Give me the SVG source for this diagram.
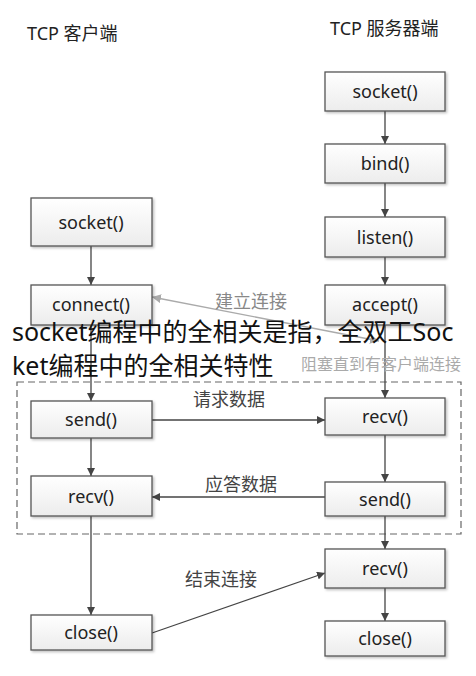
<svg xmlns="http://www.w3.org/2000/svg" width="476" height="676" viewBox="0 0 476 676">
<defs>
<linearGradient id="bg" x1="0" y1="0" x2="0" y2="1">
<stop offset="0" stop-color="#ffffff"/>
<stop offset="1" stop-color="#ececec"/>
</linearGradient>
<filter id="sh" x="-10%" y="-10%" width="130%" height="140%">
<feDropShadow dx="1.5" dy="1.5" stdDeviation="1" flood-color="#000" flood-opacity="0.25"/>
</filter>
<marker id="ah" viewBox="0 0 10 10" refX="10" refY="5" markerWidth="8" markerHeight="8" orient="auto-start-reverse" markerUnits="userSpaceOnUse">
<path d="M0,0 L10,5 L0,10 z" fill="#444"/>
</marker>
<marker id="ahl" viewBox="0 0 10 10" refX="10" refY="5" markerWidth="9" markerHeight="9" orient="auto-start-reverse" markerUnits="userSpaceOnUse">
<path d="M0,0 L10,5 L0,10 z" fill="#aaa"/>
</marker>
</defs>
<style>
.box{fill:url(#bg);stroke:#555;stroke-width:1.3;filter:url(#sh)}
.bt{font-family:"Noto Sans","Open Sans",sans-serif;font-size:18px;fill:#222;text-anchor:middle}
.ttl{font-family:"Noto Sans","Noto Sans CJK SC",sans-serif;font-size:18px;fill:#222}
.lbl{font-family:"Noto Sans CJK SC",sans-serif;font-size:18px;fill:#444}
.ln{stroke:#444;stroke-width:1.3;fill:none}
.big{font-family:"Noto Sans","Noto Sans CJK SC",sans-serif;font-size:25px;fill:#111}
</style>
<rect width="476" height="676" fill="#fff"/>

<text class="ttl" x="27" y="40">TCP 客户端</text>
<text class="ttl" x="330" y="35">TCP 服务器端</text>

<rect x="17" y="382" width="444" height="152" fill="none" stroke="#666" stroke-width="1.2" stroke-dasharray="7,4"/>

<g id="connectors">
<line class="ln" x1="91" y1="246" x2="91" y2="285" marker-end="url(#ah)"/>
<line class="ln" x1="91" y1="325" x2="91" y2="401" marker-end="url(#ah)"/>
<line class="ln" x1="91" y1="438" x2="91" y2="476" marker-end="url(#ah)"/>
<line class="ln" x1="91" y1="516" x2="91" y2="615" marker-end="url(#ah)"/>
<line class="ln" x1="385" y1="111" x2="385" y2="144" marker-end="url(#ah)"/>
<line class="ln" x1="385" y1="183" x2="385" y2="217" marker-end="url(#ah)"/>
<line class="ln" x1="385" y1="257" x2="385" y2="285" marker-end="url(#ah)"/>
<line class="ln" x1="385" y1="325" x2="385" y2="398" marker-end="url(#ah)"/>
<line class="ln" x1="385" y1="435" x2="385" y2="482" marker-end="url(#ah)"/>
<line class="ln" x1="385" y1="516" x2="385" y2="549" marker-end="url(#ah)"/>
<line class="ln" x1="385" y1="588" x2="385" y2="621" marker-end="url(#ah)"/>
<line class="ln" x1="152" y1="420" x2="325" y2="420" marker-end="url(#ah)"/>
<line class="ln" x1="325" y1="497" x2="152" y2="497" marker-end="url(#ah)"/>
<line class="ln" x1="152" y1="633" x2="325" y2="573" marker-end="url(#ah)"/>
<line x1="152" y1="297" x2="379" y2="341" stroke="#aaa" stroke-width="1.3" marker-start="url(#ahl)" marker-end="url(#ahl)"/>
<text class="lbl" x="215" y="308" style="fill:#888">建立连接</text>
<text class="lbl" x="193" y="406">请求数据</text>
<text class="lbl" x="205" y="491">应答数据</text>
<text class="lbl" x="185" y="586">结束连接</text>
<text x="301" y="370" style="font-family:'Noto Sans CJK SC',sans-serif;font-size:16px;fill:#aaa">阻塞直到有客户端连接</text>
</g>

<g id="c-socket"><rect class="box" x="31" y="198" width="121" height="48"/><text class="bt" x="91" y="229">socket()</text></g>
<g id="c-connect"><rect class="box" x="31" y="285" width="121" height="40"/><text class="bt" x="91" y="311">connect()</text></g>
<g id="c-send"><rect class="box" x="31" y="401" width="121" height="37"/><text class="bt" x="91" y="426">send()</text></g>
<g id="c-recv"><rect class="box" x="31" y="476" width="121" height="40"/><text class="bt" x="91" y="503">recv()</text></g>
<g id="c-close"><rect class="box" x="31" y="615" width="121" height="35"/><text class="bt" x="91" y="639">close()</text></g>

<g id="s-socket"><rect class="box" x="325" y="72" width="120" height="39"/><text class="bt" x="385" y="98">socket()</text></g>
<g id="s-bind"><rect class="box" x="325" y="144" width="120" height="39"/><text class="bt" x="385" y="170">bind()</text></g>
<g id="s-listen"><rect class="box" x="325" y="217" width="120" height="40"/><text class="bt" x="385" y="244">listen()</text></g>
<g id="s-accept"><rect class="box" x="325" y="285" width="120" height="40"/><text class="bt" x="385" y="311">accept()</text></g>
<g id="s-recv"><rect class="box" x="325" y="398" width="120" height="37"/><text class="bt" x="385" y="423">recv()</text></g>
<g id="s-send"><rect class="box" x="325" y="482" width="120" height="34"/><text class="bt" x="385" y="506">send()</text></g>
<g id="s-recv2"><rect class="box" x="325" y="549" width="120" height="39"/><text class="bt" x="385" y="575">recv()</text></g>
<g id="s-close"><rect class="box" x="325" y="621" width="120" height="35"/><text class="bt" x="385" y="645">close()</text></g>

<text class="big" x="12" y="341">socket编程中的全相关是指，全双工Soc</text>
<text class="big" x="12" y="375">ket编程中的全相关特性</text>
</svg>
